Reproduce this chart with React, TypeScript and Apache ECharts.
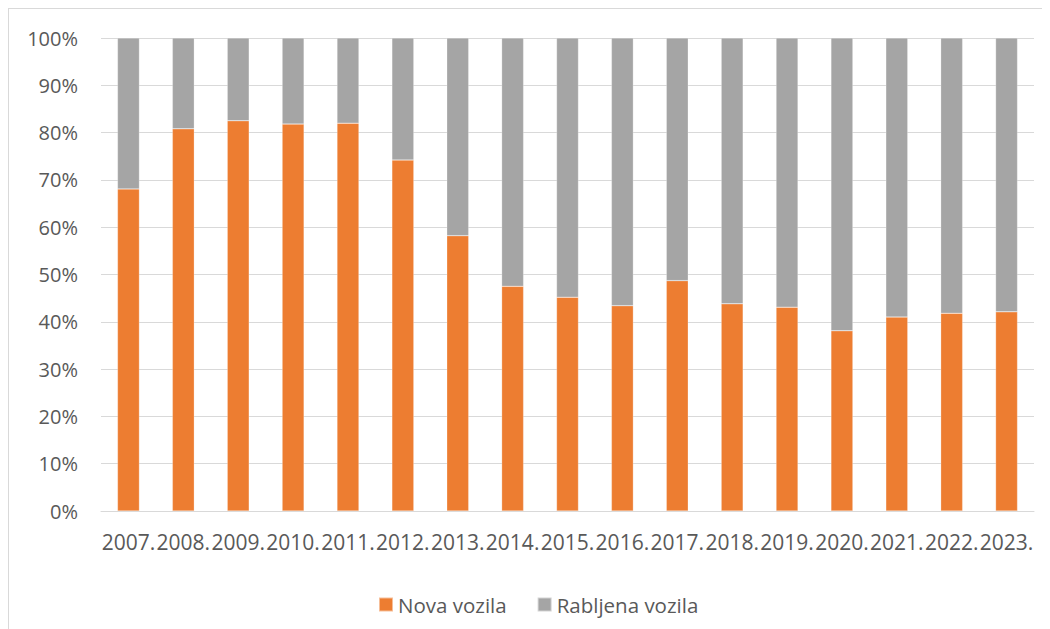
import React, { useEffect, useRef } from "react";
import * as echarts from "echarts";

const categories = [
  "2007.", "2008.", "2009.", "2010.", "2011.", "2012.", "2013.", "2014.", "2015.",
  "2016.", "2017.", "2018.", "2019.", "2020.", "2021.", "2022.", "2023.",
];
const novaVozila = [68.1, 80.8, 82.5, 81.8, 82.0, 74.2, 58.2, 47.5, 45.2, 43.4, 48.7, 43.8, 43.1, 38.1, 41.0, 41.8, 42.1];
const rabljenaVozila = novaVozila.map((v) => +(100 - v).toFixed(1));
const yTicks = [0, 10, 20, 30, 40, 50, 60, 70, 80, 90, 100];

export default function App() {
  const ref = useRef<HTMLDivElement>(null);
  useEffect(() => {
    if (!ref.current) return;
    const chart = echarts.init(ref.current, undefined, { renderer: "svg" });
    const font = "'Open Sans', 'Noto Sans', sans-serif";
    chart.setOption({
      animation: false,
      backgroundColor: "#ffffff",
      textStyle: { fontFamily: font },
      grid: { left: 92, top: 29, width: 933, height: 473, containLabel: false },
      legend: {
        left: 364,
        top: 580,
        itemWidth: 14,
        itemHeight: 14,
        itemGap: 30,
        icon: "rect",
        textStyle: { color: "#595959", fontSize: 20.5, fontFamily: font },
        data: ["Nova vozila", "Rabljena vozila"],
      },
      xAxis: {
        type: "category",
        data: categories,
        axisLine: { show: true, lineStyle: { color: "#d9d9d9", width: 1 } },
        axisTick: { show: false },
        axisLabel: { interval: 0, color: "#595959", fontSize: 21, margin: 20, fontFamily: font },
      },
      yAxis: {
        type: "value",
        min: yTicks[0],
        max: yTicks[yTicks.length - 1],
        interval: 10,
        axisLine: { show: false },
        axisTick: { show: false },
        splitLine: { lineStyle: { color: "#d9d9d9", width: 1 } },
        axisLabel: {
          color: "#595959",
          fontSize: 20,
          margin: 23,
          fontFamily: font,
          formatter: (v: number) => `${v}%`,
        },
      },
      series: [
        {
          name: "Nova vozila",
          type: "bar",
          stack: "total",
          data: novaVozila,
          barWidth: "40%",
          itemStyle: { color: "#ED7D31", borderColor: "rgba(255,255,255,0.5)", borderWidth: 0.5 },
        },
        {
          name: "Rabljena vozila",
          type: "bar",
          stack: "total",
          data: rabljenaVozila,
          barWidth: "40%",
          itemStyle: { color: "#A5A5A5", borderColor: "rgba(255,255,255,0.5)", borderWidth: 0.5 },
        },
      ],
    });
    return () => chart.dispose();
  }, []);
  return (
    <div style={{ width: 1050, height: 629, border: "1px solid #d9d9d9", boxSizing: "border-box" }}>
      <div ref={ref} style={{ width: "100%", height: "100%" }} />
    </div>
  );
}
